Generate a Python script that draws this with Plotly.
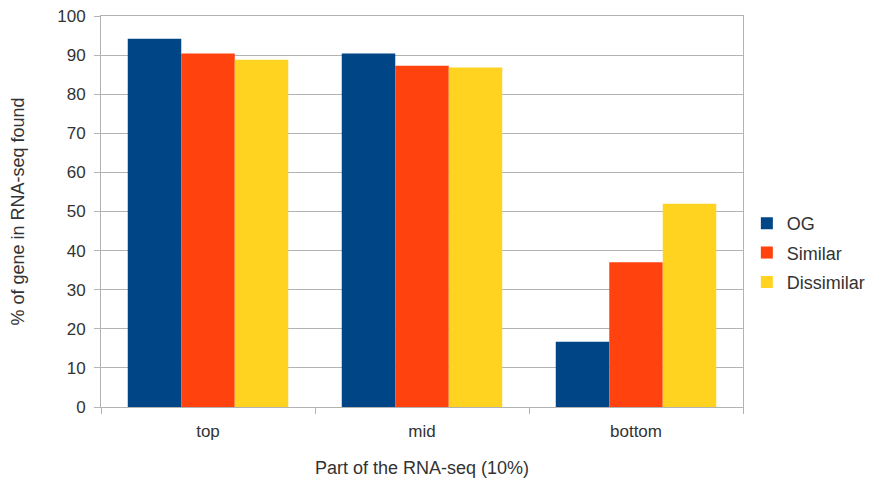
import plotly.graph_objects as go

categories = ["top", "mid", "bottom"]
og = [94.2, 90.4, 16.7]
similar = [90.4, 87.3, 37.0]
dissimilar = [88.8, 86.8, 52.0]
series_names = ["OG", "Similar", "Dissimilar"]
colors = ["#004586", "#ff420e", "#ffd320"]

fig = go.Figure()
for name, vals, c in zip(series_names, [og, similar, dissimilar], colors):
    fig.add_trace(go.Bar(x=categories, y=vals, name=name, marker_color=c,
                         marker_line_width=0, legendgroup=name))

fig.update_layout(
    width=873, height=482,
    margin=dict(l=93, r=138, t=8, b=83, autoexpand=False),
    paper_bgcolor="white", plot_bgcolor="white",
    barmode="group", bargap=0.25, bargroupgap=0,
    font=dict(family="Liberation Sans, Arial, sans-serif", size=17, color="#333333"),
    legend=dict(x=1.006, y=0.394, yanchor="middle", xanchor="left",
                font=dict(size=18, color="#333333"), itemwidth=30,
                tracegroupgap=3),
    showlegend=True,
)
fig.update_xaxes(
    title=dict(text="Part of the RNA-seq (10%)", font=dict(size=18), standoff=20),
    showline=True, linecolor="#b3b3b3", linewidth=1, mirror=True,
    ticks="outside", tickson="boundaries", ticklen=6, tickcolor="#b3b3b3",
    ticklabelstandoff=9,
    showgrid=False, automargin=False,
)
fig.update_yaxes(
    title=dict(text="% of gene in RNA-seq found", font=dict(size=18), standoff=35),
    range=[0, 100], dtick=10, showgrid=True, gridcolor="#b3b3b3",
    showline=True, linecolor="#b3b3b3", linewidth=1, mirror=True,
    ticks="outside", ticklen=6, tickcolor="#b3b3b3", zeroline=False,
    ticklabelstandoff=5, ticklabeloverflow="allow",
    automargin=False,
)
fig.write_html("out.html")
